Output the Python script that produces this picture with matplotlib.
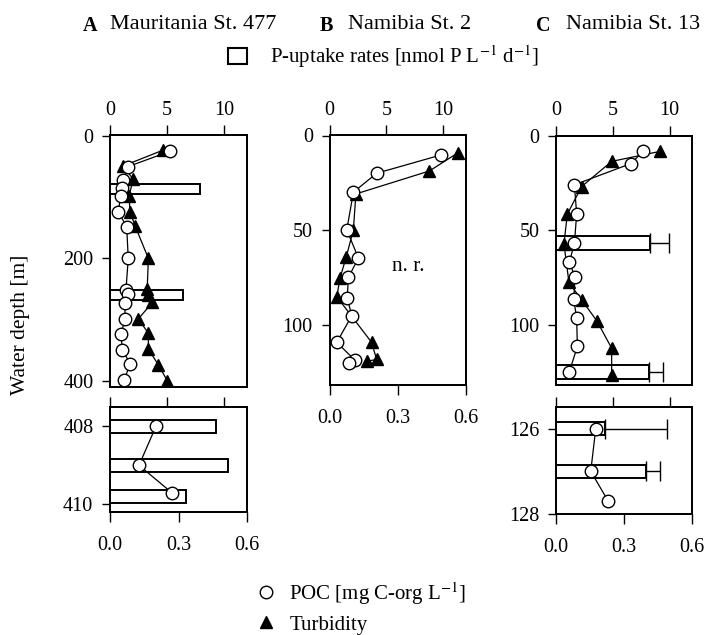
import numpy as np
import matplotlib
matplotlib.use('Agg')
import matplotlib.pyplot as plt
from matplotlib.lines import Line2D
from matplotlib.patches import Patch

plt.rcParams['font.family'] = ['Liberation Serif', 'DejaVu Serif']
plt.rcParams['mathtext.fontset'] = 'stix'

# --- Mauritania St. 477 (upper profile) ---
a_poc_depth = [25, 50, 72, 85, 98, 124, 148, 200, 251, 258, 273, 299, 324, 349, 372, 398]
a_poc = [0.263, 0.080, 0.058, 0.053, 0.047, 0.036, 0.073, 0.080, 0.070, 0.080, 0.065, 0.066, 0.048, 0.054, 0.088, 0.063]
a_turb_depth = [23, 49, 71, 98, 124, 147, 200, 250, 260, 272, 299, 322, 348, 374, 400]
a_turb = [0.234, 0.058, 0.102, 0.083, 0.088, 0.110, 0.168, 0.163, 0.165, 0.185, 0.124, 0.168, 0.168, 0.212, 0.251]
a_p_depth = [87, 260]
a_p = [7.85, 6.4]
# near-bottom samples
a_bot_poc_depth = [408.0, 409.0, 409.7]
a_bot_poc = [0.201, 0.127, 0.270]
a_bot_p_depth = [408.0, 409.0, 409.8]
a_bot_p = [9.25, 10.3, 6.7]

# --- Namibia St. 2 ---
b_poc_depth = [10.3, 19.9, 29.9, 49.7, 64.6, 74.8, 85.7, 95, 109, 118.5, 120]
b_poc = [0.489, 0.207, 0.105, 0.076, 0.127, 0.083, 0.078, 0.098, 0.032, 0.112, 0.087]
b_turb_depth = [9, 18.7, 30.8, 49.7, 64.3, 75.2, 85, 109, 118, 119]
b_turb = [0.566, 0.439, 0.116, 0.105, 0.073, 0.046, 0.032, 0.185, 0.207, 0.166]

# --- Namibia St. 13 ---
c_poc_depth = [8.3, 14.8, 26, 41.5, 56.9, 67, 74.9, 86.6, 96.6, 111.6, 124.9]
c_poc = [0.384, 0.329, 0.081, 0.091, 0.081, 0.059, 0.084, 0.078, 0.091, 0.094, 0.059]
c_turb_depth = [8.3, 13.6, 26.9, 41.5, 57.2, 77.7, 87, 97.9, 112.5, 126.7]
c_turb = [0.458, 0.245, 0.113, 0.050, 0.035, 0.057, 0.113, 0.179, 0.245, 0.245]
c_p_depth = [56.7, 125.3]
c_p = [8.3, 8.2]
c_p_err = [1.67, 1.2]
c_bot_poc_depth = [126.0, 127.0, 127.7]
c_bot_poc = [0.175, 0.153, 0.230]
c_bot_p_depth = [126.0, 127.0]
c_bot_p = [4.3, 7.9]
c_bot_p_err = [5.45, 1.25]

W, H = 709, 635
fig = plt.figure(figsize=(W / 100, H / 100), dpi=100)


def box(x0, y0, x1, y1):
    return [x0 / W, 1 - y1 / H, (x1 - x0) / W, (y1 - y0) / H]


def panel(rect, ylim, yticks, top_labels=True, bottom_axis=True):
    ax = fig.add_axes(rect)
    ax2 = ax.twiny()
    ax.xaxis.tick_top()
    ax2.xaxis.tick_bottom()
    ax.set_xlim(0, 12)
    ax.set_ylim(*ylim)
    ax.set_yticks(yticks)
    ax.set_xticks([0, 5, 10])
    if not top_labels:
        ax.set_xticklabels([])
    ax2.set_xlim(0, 0.6)
    if bottom_axis:
        ax2.set_xticks([0, 0.3, 0.6])
        ax2.set_xticklabels(['0.0', '0.3', '0.6'])
    else:
        ax2.set_xticks([])
    ax.tick_params(axis='x', direction='out', length=7, width=1, labelsize=14.5, pad=4)
    ax.tick_params(axis='y', direction='out', length=6, width=1, labelsize=14.5, pad=6)
    ax2.tick_params(axis='x', direction='out', length=7, width=1, labelsize=14.5, pad=10)
    for a in (ax, ax2):
        for s in a.spines.values():
            s.set_linewidth(1.3)
    return ax, ax2


def bars(ax, depth, vals, h, err=None):
    kw = dict(height=h, left=0, color='white', edgecolor='black', linewidth=1.4, zorder=1)
    if err is not None:
        kw['xerr'] = [np.zeros(len(err)), err]
        kw['error_kw'] = dict(capsize=7, elinewidth=1, capthick=1, ecolor='black')
    ax.barh(depth, vals, **kw)


def profile(ax, depth, vals, marker):
    if marker == 'o':
        ax.plot(vals, depth, '-', color='black', lw=0.9, marker='o', ms=9,
                mfc='white', mec='black', mew=1, zorder=4)
    else:
        ax.plot(vals, depth, '-', color='black', lw=0.9, marker='^', ms=9,
                mfc='black', mec='black', zorder=3)


# A
ax, ax2 = panel(box(110, 135, 247, 387), (410, -1.5), [0, 200, 400], bottom_axis=False)
bars(ax, a_p_depth, a_p, 17)
profile(ax2, a_turb_depth, a_turb, '^')
profile(ax2, a_poc_depth, a_poc, 'o')

ax, ax2 = panel(box(110, 407, 247, 512), (410.2, 407.5), [408, 410], top_labels=False)
bars(ax, a_bot_p_depth, a_bot_p, 0.32)
profile(ax2, a_bot_poc_depth, a_bot_poc, 'o')

# B
ax, ax2 = panel(box(329.5, 135.5, 466, 385), (131.5, 0), [0, 50, 100])
profile(ax2, b_turb_depth, b_turb, '^')
profile(ax2, b_poc_depth, b_poc, 'o')
ax2.text(0.345, 69, 'n. r.', ha='center', va='center', fontsize=15.5)

# C
ax, ax2 = panel(box(556, 135.7, 692.3, 385), (132, 0), [0, 50, 100], bottom_axis=False)
bars(ax, c_p_depth, c_p, 7.4, c_p_err)
profile(ax2, c_turb_depth, c_turb, '^')
profile(ax2, c_poc_depth, c_poc, 'o')

ax, ax2 = panel(box(556, 407.3, 692.3, 514), (128, 125.5), [126, 128], top_labels=False)
bars(ax, c_bot_p_depth, c_bot_p, 0.3, c_bot_p_err)
profile(ax2, c_bot_poc_depth, c_bot_poc, 'o')

# station titles
for letter, lx, name, nx in [('A', 83, 'Mauritania St. 477', 110),
                             ('B', 320, 'Namibia St. 2', 348),
                             ('C', 536, 'Namibia St. 13', 566)]:
    fig.text(lx / W, 1 - 31 / H, letter, fontsize=14.5, weight='bold', va='baseline')
    fig.text(nx / W, 1 - 29 / H, name, fontsize=16, va='baseline')

fig.text(21 / W, 1 - 325 / H, 'Water depth [m]', rotation=90, ha='center', va='center', fontsize=15.5)

fig.legend(handles=[Patch(facecolor='white', edgecolor='black', linewidth=1.5)],
           labels=[r'P-uptake rates [nmol P L$^{\mathrm{-1}}$ d$^{\mathrm{-1}}$]'],
           loc='center left', bbox_to_anchor=(228 / W, 1 - 57 / H), frameon=False,
           handlelength=0.9, handleheight=0.75, handletextpad=1.1,
           borderpad=0, borderaxespad=0, fontsize=15)

fig.legend(handles=[Line2D([], [], ls='none', marker='o', ms=9, mfc='white', mec='black'),
                    Line2D([], [], ls='none', marker='^', ms=9, mfc='black', mec='black')],
           labels=[r'POC [mg C-org L$^{\mathrm{-1}}$]', 'Turbidity'],
           loc='upper left', bbox_to_anchor=(256 / W, 1 - 580 / H), frameon=False,
           handlelength=1.0, handletextpad=0.6, labelspacing=0.4,
           borderpad=0, borderaxespad=0, fontsize=15)

fig.savefig('out.png', dpi=100)
